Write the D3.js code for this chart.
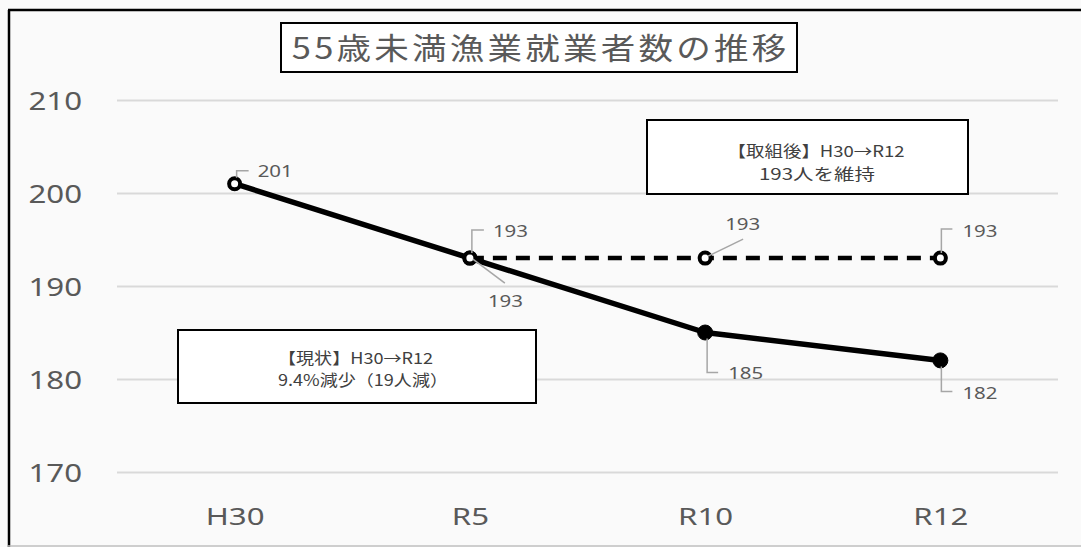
<!DOCTYPE html>
<html>
<head>
<meta charset="utf-8">
<script src="https://cdn.jsdelivr.net/npm/d3@7/dist/d3.min.js"></script>
<style>
  html, body { margin: 0; padding: 0; background: #ffffff; }
  svg { display: block; }
</style>
</head>
<body>
<svg id="chart" width="1081" height="547"></svg>
<script>
// 55歳未満漁業就業者数の推移
const title = "55歳未満漁業就業者数の推移";
const categories = ["H30", "R5", "R10", "R12"];
const currentTrend = [201, 193, 185, 182];     // 【現状】
const afterMeasures = [null, 193, 193, 193];   // 【取組後】
const yTicks = [170, 180, 190, 200, 210];
const noteAfter = ["【取組後】H30→R12", "193人を維持"];
const noteCurrent = ["【現状】H30→R12", "9.4%減少（19人減）"];

const W = 1081, H = 547;
const svg = d3.select("#chart");
const LATIN = "'Noto Sans', 'Open Sans', sans-serif";
const CJK = "'Noto Sans CJK JP', 'Noto Sans', sans-serif";
const SX = 1.28; // horizontal stretch of the lettering

// background and frame
svg.append("rect").attr("x", 0).attr("y", 0).attr("width", W).attr("height", H).attr("fill", "#fafafa");
svg.append("line").attr("x1", 8).attr("x2", W).attr("y1", 10).attr("y2", 10)
  .attr("stroke", "#000").attr("stroke-width", 2.5);
svg.append("line").attr("x1", 9).attr("x2", 9).attr("y1", 10).attr("y2", H)
  .attr("stroke", "#000").attr("stroke-width", 2.5);
svg.append("line").attr("x1", 8).attr("x2", W).attr("y1", 546).attr("y2", 546)
  .attr("stroke", "#bfbfbf").attr("stroke-width", 1.5);

const x = d3.scalePoint().domain(categories).range([117, 1058]).padding(0.5);
const y = d3.scaleLinear().domain([170, 210]).range([472, 100]);

// value axis with gridlines
const yAxis = svg.append("g").attr("transform", "translate(117,0)")
  .call(d3.axisLeft(y).tickValues(yTicks).tickSize(-941).tickFormat(d3.format("d")));
yAxis.select(".domain").remove();
yAxis.selectAll(".tick line").attr("stroke", "#d9d9d9").attr("stroke-width", 2);
yAxis.selectAll(".tick text")
  .attr("x", null).attr("dy", null)
  .attr("transform", `translate(-35,9) scale(1.25,1)`)
  .attr("text-anchor", "end")
  .attr("font-family", LATIN).attr("font-size", 25).attr("fill", "#595959");

// category axis
const xAxis = svg.append("g").attr("transform", "translate(0,472)")
  .call(d3.axisBottom(x).tickSize(0));
xAxis.select(".domain").remove();
xAxis.selectAll(".tick text")
  .attr("y", null).attr("dy", null)
  .attr("transform", `translate(0,53) scale(1.3,1)`)
  .attr("text-anchor", "middle")
  .attr("font-family", LATIN).attr("font-size", 24).attr("fill", "#595959");

// title box
svg.append("rect").attr("x", 281).attr("y", 23).attr("width", 516).attr("height", 49)
  .attr("fill", "#ffffff").attr("stroke", "#000").attr("stroke-width", 2);
svg.append("text").attr("transform", "translate(539,59) scale(1.15,1)")
  .attr("text-anchor", "middle")
  .attr("font-family", CJK).attr("font-size", 30).attr("fill", "#595959")
  .attr("textLength", 430).attr("lengthAdjust", "spacing")
  .text(title);

// note boxes
function noteBox(bx, by, bw, bh, lines, placements) {
  svg.append("rect").attr("x", bx).attr("y", by).attr("width", bw).attr("height", bh)
    .attr("fill", "#ffffff").attr("stroke", "#000").attr("stroke-width", 2);
  lines.forEach((t, i) => {
    const p = placements[i];
    svg.append("text").attr("x", p.x).attr("y", p.y).attr("text-anchor", p.anchor)
      .attr("font-family", CJK).attr("font-size", 15.5).attr("fill", "#404040")
      .attr("textLength", p.len).attr("lengthAdjust", "spacingAndGlyphs")
      .text(t);
  });
}
noteBox(647, 120, 321, 74, noteAfter, [
  { x: 816, y: 157, anchor: "middle", len: 177 },
  { x: 817, y: 180, anchor: "middle", len: 116 }
]);
noteBox(178, 330, 358, 73, noteCurrent, [
  { x: 278, y: 364, anchor: "start", len: 155 },
  { x: 278, y: 386, anchor: "start", len: 170 }
]);

// series lines
const line = d3.line()
  .defined(d => d.v != null)
  .x(d => x(d.c)).y(d => y(d.v));

const cur = categories.map((c, i) => ({ c, v: currentTrend[i] }));
const aft = categories.map((c, i) => ({ c, v: afterMeasures[i] }));

svg.append("path").datum(cur).attr("d", line)
  .attr("fill", "none").attr("stroke", "#000").attr("stroke-width", 5.5)
  .attr("stroke-linejoin", "round").attr("stroke-linecap", "round");
svg.append("path").datum(aft).attr("d", line)
  .attr("fill", "none").attr("stroke", "#000").attr("stroke-width", 4.5)
  .attr("stroke-dasharray", "14,9");

// markers: open circles for the first two points of the current trend and for the target series
svg.selectAll("circle.cur").data(cur).join("circle").attr("class", "cur")
  .attr("cx", d => x(d.c)).attr("cy", d => y(d.v))
  .attr("r", (d, i) => i < 2 ? 5.5 : 7.5)
  .attr("fill", (d, i) => i < 2 ? "#ffffff" : "#000")
  .attr("stroke", "#000").attr("stroke-width", (d, i) => i < 2 ? 4 : 1);
svg.selectAll("circle.aft").data(aft.filter(d => d.v != null)).join("circle").attr("class", "aft")
  .attr("cx", d => x(d.c)).attr("cy", d => y(d.v))
  .attr("r", 5.5).attr("fill", "#ffffff").attr("stroke", "#000").attr("stroke-width", 4);

// data labels with leader lines
const leader = "#a6a6a6";
function dataLabel(px, py, value, leaderPts, tx, ty) {
  svg.append("path").attr("d", d3.line()(leaderPts.map(([dx, dy]) => [px + dx, py + dy])))
    .attr("fill", "none").attr("stroke", leader).attr("stroke-width", 1.5);
  svg.append("text").attr("transform", `translate(${px + tx},${py + ty}) scale(${SX},1)`)
    .attr("font-family", LATIN).attr("font-size", 16).attr("fill", "#595959")
    .text(value);
}
// current trend labels
{
  const p = i => [x(categories[i]), y(currentTrend[i])];
  let [px, py] = p(0);
  dataLabel(px, py, currentTrend[0], [[2, -6], [2, -13], [14, -13]], 23, -7);
  [px, py] = p(1);
  dataLabel(px, py, currentTrend[1], [[3, 1], [35, 25]], 18, 49);
  [px, py] = p(2);
  dataLabel(px, py, currentTrend[2], [[2, 6], [2, 40], [13, 40]], 23, 46);
  [px, py] = p(3);
  dataLabel(px, py, currentTrend[3], [[1, 6], [1, 31], [12, 31]], 22, 39);
}
// target series labels
{
  const p = i => [x(categories[i]), y(afterMeasures[i])];
  let [px, py] = p(1);
  dataLabel(px, py, afterMeasures[1], [[2, -5], [2, -28], [14, -28]], 23, -21);
  [px, py] = p(2);
  dataLabel(px, py, afterMeasures[2], [[3, -2], [38, -19]], 20, -28);
  [px, py] = p(3);
  dataLabel(px, py, afterMeasures[3], [[1, -5], [1, -29], [12, -29]], 22, -21);
}
</script>
</body>
</html>
